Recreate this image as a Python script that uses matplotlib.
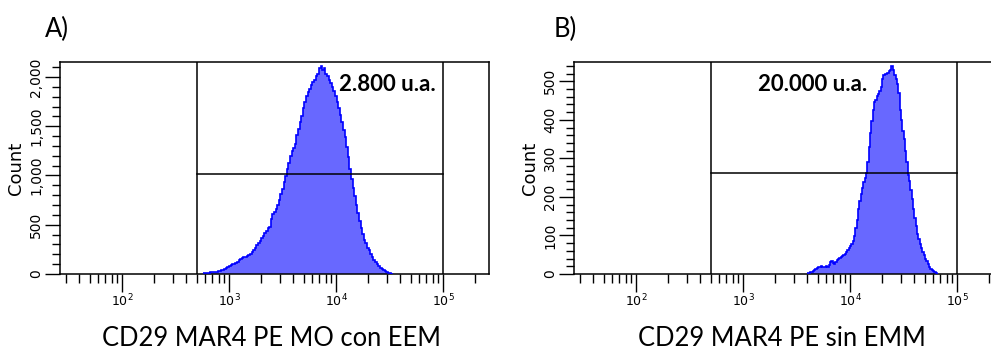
import numpy as np
import matplotlib
matplotlib.use("Agg")
import matplotlib.pyplot as plt
from matplotlib.ticker import LogLocator, LogFormatterSciNotation, MultipleLocator, FuncFormatter

# ---------------- data ----------------
# Panel A: histogram (log10 intensity bins, width 0.015 decade)
a_edges_start = 2.76
a_bin_width = 0.015
a_counts = [9, 11, 13, 14, 17, 18, 21, 22, 25, 27, 33, 37, 44, 48, 63, 72, 85, 91,
            98, 103, 112, 120, 146, 155, 162, 168, 175, 181, 195, 206, 226, 245, 268,
            292, 310, 332, 362, 390, 420, 440, 462, 478, 560, 610, 632, 655, 705, 752,
            810, 860, 930, 990, 1065, 1130, 1195, 1245, 1280, 1320, 1410, 1470, 1540,
            1600, 1690, 1750, 1810, 1850, 1880, 1915, 1950, 1965, 2005, 2035, 2090,
            2115, 2070, 2095, 2030, 2005, 1965, 1935, 1900, 1860, 1810, 1750, 1690,
            1610, 1540, 1465, 1390, 1290, 1190, 1070, 960, 870, 790, 705, 620, 540,
            470, 410, 345, 310, 265, 240, 200, 170, 140, 120, 98, 85, 62, 48, 38, 30,
            18, 12, 7, 4]
# Panel B: histogram (log10 intensity bins, width 0.0125 decade)
b_edges_start = 3.60
b_bin_width = 0.0125
b_counts = [2, 3, 4, 6, 8, 11, 14, 16, 17, 19, 20, 18, 17, 18, 20, 19, 24, 31, 33,
            29, 27, 30, 36, 40, 42, 44, 47, 50, 53, 58, 63, 68, 72, 78, 85, 98, 120,
            140, 168, 190, 208, 222, 238, 250, 262, 290, 330, 365, 398, 425, 445, 452,
            462, 468, 476, 485, 505, 515, 520, 518, 522, 526, 530, 540, 528, 515, 505,
            492, 470, 425, 400, 372, 350, 318, 290, 258, 240, 218, 195, 168, 145, 125,
            105, 90, 78, 68, 58, 50, 40, 33, 25, 18, 14, 10, 7, 5, 3, 1]

a_ylim = 2152
b_ylim = 550
a_gate_y = 1020
b_gate_y = 262
gate_x = [500, 1e5]
x_range = [26.3, 269000]

a_label = "CD29 MAR4 PE MO con EEM"
b_label = "CD29 MAR4 PE sin EMM"
a_value = "2.800 u.a."
b_value = "20.000 u.a."
panel_letters = ["A)", "B)"]

FILL = "#6868FF"
EDGE = "#0000FF"

W, H = 991, 353
fig = plt.figure(figsize=(W / 100, H / 100), dpi=100)

def px_axes(l, r, t, b):
    return fig.add_axes([l / W, (H - b) / H, (r - l) / W, (b - t) / H])

def style_axis(ax, ymax, ymajor, yminor, yfmt):
    ax.set_xscale("log")
    ax.set_xlim(*x_range)
    ax.set_ylim(0, ymax)
    ax.xaxis.set_major_locator(LogLocator(base=10, numticks=20))
    ax.xaxis.set_minor_locator(LogLocator(base=10, subs=np.arange(2, 10), numticks=50))
    ax.xaxis.set_major_formatter(LogFormatterSciNotation())
    ax.yaxis.set_major_locator(MultipleLocator(ymajor))
    ax.yaxis.set_minor_locator(MultipleLocator(yminor))
    ax.yaxis.set_major_formatter(FuncFormatter(yfmt))
    ax.tick_params(axis="x", which="major", length=13, width=1.0, pad=0.5, labelsize=9)
    ax.tick_params(axis="x", which="minor", length=6.5, width=1.0)
    ax.tick_params(axis="y", which="major", length=10.5, width=1.0, pad=1.5, labelsize=10,
                   labelrotation=90)
    ax.tick_params(axis="y", which="minor", length=5.5, width=1.0)
    for lab in ax.get_yticklabels():
        lab.set_va("center")
    for s in ax.spines.values():
        s.set_linewidth(1.1)
    ax.set_ylabel("Count", fontsize=13, labelpad=3)

def draw_hist(ax, start, width, counts, gate_y):
    n = len(counts)
    edges = 10 ** (start + width * np.arange(n + 1))
    ax.stairs(counts, edges, fill=True, color=FILL, lw=0, zorder=2)
    ax.stairs(counts, edges, color=EDGE, lw=1.2, baseline=None, zorder=3)
    for gx in gate_x:
        ax.axvline(gx, color="black", lw=1.1, zorder=4)
    ax.plot(gate_x, [gate_y, gate_y], color="black", lw=1.1, zorder=4)

axA = px_axes(60, 489, 62, 274)
style_axis(axA, a_ylim, 500, 100, lambda v, p: f"{int(v):,}")
draw_hist(axA, a_edges_start, a_bin_width, a_counts, a_gate_y)
axA.text(0.762, 0.892, a_value, transform=axA.transAxes, ha="center", va="center",
         fontsize=16, fontweight="bold", family="Lato", zorder=5)

axB = px_axes(574, 1003, 62, 274)
style_axis(axB, b_ylim, 100, 20, lambda v, p: f"{int(v)}")
draw_hist(axB, b_edges_start, b_bin_width, b_counts, b_gate_y)
axB.text(0.556, 0.892, b_value, transform=axB.transAxes, ha="center", va="center",
         fontsize=16, fontweight="bold", family="Lato", zorder=5)

fig.text(272 / W, 1 - 339 / H, a_label, ha="center", va="center", fontsize=18.4, family="Lato")
fig.text(782 / W, 1 - 339 / H, b_label, ha="center", va="center", fontsize=18.4, family="Lato")
fig.text(57 / W, 1 - 29 / H, panel_letters[0], ha="center", va="center", fontsize=18.4, family="Lato")
fig.text(565 / W, 1 - 29 / H, panel_letters[1], ha="center", va="center", fontsize=18.4, family="Lato")

fig.savefig("out.png", dpi=100)
